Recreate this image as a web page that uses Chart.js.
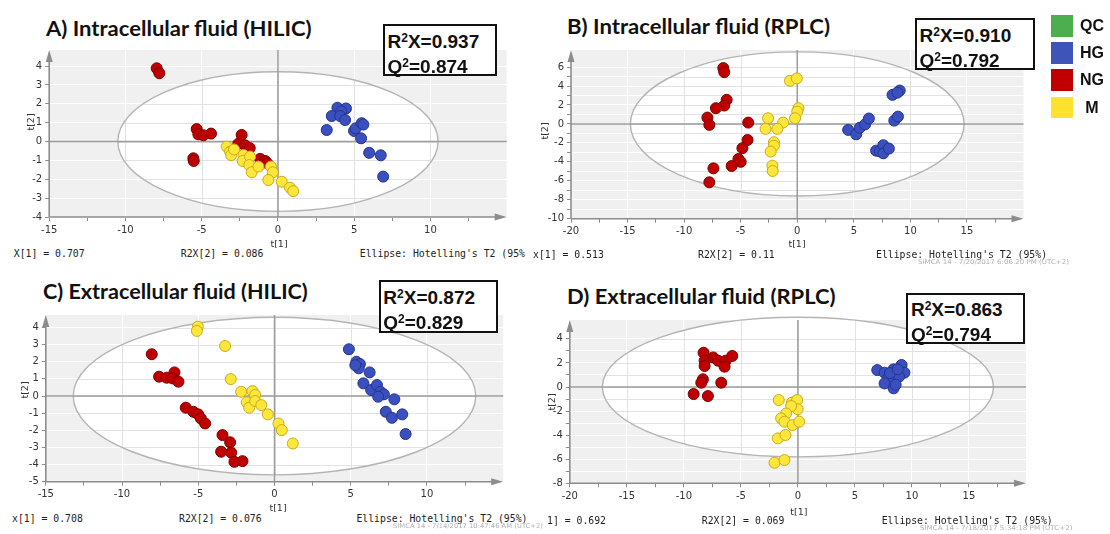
<!DOCTYPE html>
<html><head><meta charset="utf-8">
<script src="https://cdn.jsdelivr.net/npm/chart.js@4.4.1/dist/chart.umd.min.js"></script>
<style>
html,body{margin:0;padding:0;background:#fff;}
#wrap{position:relative;width:1110px;height:534px;overflow:hidden;background:#fff;}
canvas{position:absolute;}
.t{position:absolute;white-space:pre;line-height:1;}
.box{position:absolute;box-sizing:border-box;border:2px solid #111;background:#fff;}
.sw{position:absolute;}
.sup{font-size:12px;position:relative;top:-6px;}
</style></head><body><div id="wrap"></div>
<script>
// ---------------- DATA ----------------
const groups = ['QC', 'HG', 'NG', 'M'];
const panelTitles = ['A) Intracellular fluid (HILIC)', 'B) Intracellular fluid (RPLC)', 'C) Extracellular fluid (HILIC)', 'D) Extracellular fluid (RPLC)'];
const r2xValues = ['0.937', '0.910', '0.872', '0.863'];
const q2Values = ['0.874', '0.792', '0.829', '0.794'];
const r2x1Labels = ['X[1] = 0.707', 'x[1] = 0.513', 'x[1] = 0.708', '1] = 0.692'];
const r2x2Labels = ['R2X[2] = 0.086', 'R2X[2] = 0.11', 'R2X[2] = 0.076', 'R2X[2] = 0.069'];
const ellipseLabels = ["Ellipse: Hotelling's T2 (95%", "Ellipse: Hotelling's T2 (95%)", "Ellipse: Hotelling's T2 (95%)", "Ellipse: Hotelling's T2 (95%)"];
const stampLabels = ['', 'SIMCA 14 - 7/20/2017 6:06:20 PM (UTC+2)', 'SIMCA 14 - 7/14/2017 10:47:46 AM (UTC+2)', 'SIMCA 14 - 7/18/2017 5:34:18 PM (UTC+2)'];
const xRanges = [[-15, 15], [-20, 20], [-15, 15], [-20, 20]];
const yRanges = [[-4, 4.85], [-10, 7.8], [-5, 4.73], [-8, 5.57]];
const xLabelStep = [5, 5, 5, 5];
const yLabelStep = [1, 2, 1, 2];
const ellipseRx = [10.5, 14.75, 13.2, 17.15];
const ellipseRy = [3.7, 7.6, 4.6, 5.8];

const A_HG = [[3.9,1.79],[4.46,1.75],[4.15,1.6],[3.53,1.35],[4.08,1.35],[4.4,1.14],[3.2,0.61],[4.99,0.56],[5.1,0.7],[5.49,0.97],[5.6,0.9],[5.45,0.17],[5.98,-0.6],[6.74,-0.73],[6.9,-1.86]];
const A_NG = [[-7.95,3.88],[-7.78,3.62],[-5.33,0.66],[-5.22,0.38],[-4.89,0.33],[-4.39,0.42],[-5.55,-0.89],[-5.52,-1.03],[-2.38,0.35],[-2.6,-0.12],[-2.16,-0.2],[-1.85,-0.35],[-1.17,-0.92],[-0.84,-1.03],[-0.7,-1.15]];
const A_M  = [[-3.36,-0.27],[-3.14,-0.54],[-3.07,-0.72],[-2.88,-0.42],[-2.26,-0.72],[-2.31,-1.03],[-1.83,-0.8],[-1.88,-1.25],[-1.72,-1.63],[-1.28,-1.33],[-0.46,-1.33],[-0.34,-1.63],[-0.63,-2.04],[0.25,-2.13],[0.79,-2.45],[1.0,-2.63]];

const B_HG = [[4.5,-0.63],[5.21,-1.1],[5.53,-0.4],[6.0,-0.05],[6.33,0.57],[6.97,-2.82],[7.3,-2.9],[7.61,-2.25],[7.61,-3.1],[8.1,-2.6],[8.42,3.07],[9.06,3.52],[8.85,3.3],[8.58,0.35],[8.9,0.77]];
const B_NG = [[-6.54,5.89],[-6.45,5.46],[-6.24,2.54],[-6.45,1.94],[-7.19,1.66],[-7.94,0.67],[-7.77,-0.1],[-4.33,0.14],[-4.39,-1.69],[-4.85,-2.56],[-5.2,-3.7],[-5.0,-4.0],[-5.8,-4.44],[-7.41,-4.69],[-7.77,-6.16]];
const B_M  = [[-0.64,4.55],[-0.04,4.8],[0.1,1.66],[0.0,1.3],[-0.19,0.6],[-2.58,0.6],[-1.25,0.14],[-2.8,-0.52],[-1.76,-0.52],[-2.06,-1.93],[-2.06,-2.3],[-2.35,-2.92],[-2.2,-4.41],[-2.17,-4.97]];

const C_HG = [[4.88,2.73],[5.37,2.0],[5.6,1.87],[5.52,1.62],[5.3,1.8],[6.24,1.38],[5.83,0.74],[6.34,0.35],[6.72,0.64],[6.95,0.25],[7.17,0.1],[6.8,-0.04],[7.86,-0.19],[7.3,-0.92],[7.7,-1.27],[8.38,-1.07],[8.6,-2.22]];
const C_NG = [[-8.05,2.44],[-7.57,1.13],[-7.07,1.07],[-6.56,1.38],[-6.69,1.03],[-6.3,0.84],[-5.82,-0.68],[-5.32,-0.92],[-5.0,-1.07],[-4.83,-1.31],[-4.55,-1.6],[-3.41,-2.28],[-2.91,-2.7],[-3.5,-3.25],[-2.84,-3.3],[-2.63,-3.84],[-2.1,-3.8]];
const C_M  = [[-5.03,4.05],[-5.09,3.8],[-3.24,2.92],[-2.87,0.99],[-2.19,0.25],[-1.45,0.29],[-1.27,0.06],[-1.82,-0.37],[-1.66,-0.68],[-1.27,-0.29],[-0.87,-0.53],[-0.44,-1.07],[0.26,-1.6],[0.48,-1.99],[1.2,-2.77]];

const D_HG = [[6.96,1.41],[7.6,1.19],[8.39,1.47],[9.09,1.83],[9.34,1.19],[7.92,0.72],[8.87,0.86],[7.6,0.3],[8.39,-0.11],[8.57,0.19],[8.07,1.16],[8.75,1.47]];
const D_NG = [[-8.27,2.85],[-8.18,2.19],[-8.18,1.75],[-7.43,2.46],[-7.0,2.19],[-6.34,2.19],[-6.43,1.69],[-5.76,2.58],[-8.33,0.64],[-8.47,0.36],[-6.72,0.36],[-9.14,-0.58],[-7.89,-0.75]];
const D_M  = [[-1.68,-1.08],[-0.52,-1.3],[-0.07,-1.08],[-0.02,-1.85],[-0.59,-1.58],[-1.03,-2.2],[-1.47,-2.6],[-1.18,-2.88],[-0.46,-3.16],[0.12,-2.88],[-1.76,-4.27],[-1.09,-3.99],[-2.05,-6.29],[-1.18,-6.07]];

const panelSeries = [
  {HG: A_HG, NG: A_NG, M: A_M},
  {HG: B_HG, NG: B_NG, M: B_M},
  {HG: C_HG, NG: C_NG, M: C_M},
  {HG: D_HG, NG: D_NG, M: D_M}
];

// ---------------- STYLE / LAYOUT ----------------
const legendColors = {QC: '#4dae50', HG: '#3f54b8', NG: '#c00000', M: '#ffe22e'};
const pointFill = {HG: '#3b50c0', NG: '#c00000', M: '#ffe63a'};
const pointEdge = {HG: '#25348a', NG: '#7d0000', M: '#c8ac1c'};
const layoutSpec = [
  {canvas: [0, 40, 530, 205], area: [49.2, 50, 506.7, 217], title: [45.8, 26.7, 266], box: [383, 24, 114, 52],
   foot: 253, footX: [13.8, 180.8, 359.8], t1: [279, 243], t2: [29.5, 121.5], stamp: null},
  {canvas: [530, 40, 510, 205], area: [571, 50, 1023.5, 218.7], title: [567.3, 25, 263.5], box: [915, 18.3, 119.5, 52],
   foot: 254, footX: [533, 698, 876], t1: [797, 243], t2: [544, 131], stamp: [918, 261.5, 151]},
  {canvas: [0, 305, 530, 205], area: [45.8, 315, 503.2, 481.7], title: [43, 290, 265.2], box: [378.8, 280, 119.5, 52.7],
   foot: 518, footX: [12, 179, 356.4], t1: [278, 506.7], t2: [24, 390], stamp: [392.6, 526, 150]},
  {canvas: [530, 310, 510, 200], area: [569.8, 320, 1026, 483.3], title: [567, 295, 269], box: [906.4, 292.7, 119, 51.3],
   foot: 520, footX: [547, 701.8, 881.7], t1: [798.8, 510.7], t2: [551, 402], stamp: [920, 528.3, 152.5]}
];

const wrap = document.getElementById('wrap');
const mctx = document.createElement('canvas').getContext('2d');
function T(txt, x, y, font, o = {}) {
  const d = document.createElement('div');
  d.className = 't';
  if (o.parts) {
    o.parts.forEach(p => {
      const s = document.createElement('span');
      s.textContent = p[0];
      if (p[1]) s.className = p[1];
      d.appendChild(s);
    });
  } else {
    d.textContent = txt;
  }
  d.style.font = font;
  d.style.color = o.color || '#111';
  d.style.left = x + 'px';
  d.style.top = y + 'px';
  let tf = '';
  if (o.center) tf += 'translate(-50%,-50%) '; else tf += 'translateY(-50%) ';
  if (o.rotate) tf += 'rotate(' + o.rotate + 'deg) ';
  if (o.w) {
    mctx.font = font;
    const m = mctx.measureText(txt).width;
    tf += 'scaleX(' + (o.w / m) + ')';
    d.style.transformOrigin = '0 50%';
  }
  d.style.transform = tf;
  wrap.appendChild(d);
  return d;
}
const isMult = (v, s) => Math.abs(v / s - Math.round(v / s)) < 1e-6;

const panelPlugin = {
  id: 'panel',
  beforeDraw(chart, args, o) {
    const {ctx, chartArea: a} = chart;
    ctx.save();
    ctx.fillStyle = '#f0f0f0';
    ctx.fillRect(a.left, a.top, a.right - a.left, a.bottom - a.top);
    ctx.restore();
  },
  beforeDatasetsDraw(chart, args, o) {
    const {ctx, chartArea: a, scales: {x, y}} = chart;
    const cx = x.getPixelForValue(0), cy = y.getPixelForValue(0);
    const rx = Math.abs(x.getPixelForValue(o.rx) - cx), ry = Math.abs(y.getPixelForValue(o.ry) - cy);
    ctx.save();
    ctx.beginPath();
    ctx.ellipse(cx, cy, rx, ry, 0, 0, 2 * Math.PI);
    ctx.fillStyle = '#ffffff';
    ctx.fill();
    ctx.clip();
    ctx.strokeStyle = '#e2e2e2';
    ctx.lineWidth = 1;
    y.ticks.forEach(t => {
      const p = Math.round(y.getPixelForValue(t.value)) + 0.5;
      ctx.beginPath(); ctx.moveTo(a.left, p); ctx.lineTo(a.right, p); ctx.stroke();
    });
    x.ticks.forEach(t => {
      if (!isMult(t.value, 5)) return;
      const p = Math.round(x.getPixelForValue(t.value)) + 0.5;
      ctx.beginPath(); ctx.moveTo(p, a.top); ctx.lineTo(p, a.bottom); ctx.stroke();
    });
    ctx.restore();
    ctx.save();
    ctx.beginPath();
    ctx.ellipse(cx, cy, rx, ry, 0, 0, 2 * Math.PI);
    ctx.strokeStyle = '#b4b4b4';
    ctx.lineWidth = 1.4;
    ctx.stroke();
    // zero lines
    ctx.strokeStyle = '#9c9c9c';
    ctx.lineWidth = 1.5;
    ctx.beginPath(); ctx.moveTo(a.left, cy); ctx.lineTo(a.right, cy); ctx.stroke();
    ctx.beginPath(); ctx.moveTo(cx, a.top); ctx.lineTo(cx, a.bottom); ctx.stroke();
    // axes with arrows
    ctx.strokeStyle = '#8c8c8c';
    ctx.fillStyle = '#8c8c8c';
    ctx.lineWidth = 1.6;
    ctx.beginPath(); ctx.moveTo(a.left, a.bottom); ctx.lineTo(a.right - 6, a.bottom); ctx.stroke();
    ctx.beginPath(); ctx.moveTo(a.right, a.bottom); ctx.lineTo(a.right - 12, a.bottom - 3.5); ctx.lineTo(a.right - 12, a.bottom + 3.5); ctx.closePath(); ctx.fill();
    ctx.beginPath(); ctx.moveTo(a.left, a.bottom); ctx.lineTo(a.left, a.top + 6); ctx.stroke();
    ctx.beginPath(); ctx.moveTo(a.left, a.top); ctx.lineTo(a.left - 3.5, a.top + 12); ctx.lineTo(a.left + 3.5, a.top + 12); ctx.closePath(); ctx.fill();
    ctx.restore();
  }
};

const tickFont = {family: 'DejaVu Sans', size: 10};
layoutSpec.forEach((L, i) => {
  const [cxp, cyp, cw, ch] = L.canvas;
  const [al, at, ar, ab] = L.area;
  const cv = document.createElement('canvas');
  cv.width = cw; cv.height = ch;
  cv.style.left = cxp + 'px'; cv.style.top = cyp + 'px';
  cv.style.width = cw + 'px'; cv.style.height = ch + 'px';
  wrap.appendChild(cv);
  const S = panelSeries[i];
  const order = ['M', 'NG', 'HG'];
  const datasets = order.map(g => ({
    label: g,
    data: S[g].map(p => ({x: p[0], y: p[1]})),
    backgroundColor: pointFill[g],
    borderColor: pointEdge[g],
    borderWidth: 1,
    pointRadius: 5.5,
    pointHoverRadius: 5.5
  }));
  const ys = yLabelStep[i], xs = xLabelStep[i];
  new Chart(cv, {
    type: 'scatter',
    data: {datasets},
    plugins: [panelPlugin],
    options: {
      responsive: false, animation: false, events: [], devicePixelRatio: 1,
      layout: {padding: {top: at - cyp, right: cxp + cw - ar, left: 0, bottom: 0}},
      plugins: {legend: {display: false}, tooltip: {enabled: false}, panel: {rx: ellipseRx[i], ry: ellipseRy[i]}},
      scales: {
        x: {
          type: 'linear', min: xRanges[i][0], max: xRanges[i][1],
          border: {display: false},
          grid: {color: c => (c.tick && isMult(c.tick.value, xs)) ? '#ffffff' : 'rgba(0,0,0,0)', tickColor: '#8c8c8c', tickLength: 4, lineWidth: 1},
          ticks: {stepSize: 2.5, autoSkip: false, maxRotation: 0, font: tickFont, color: '#333', padding: 3,
                  callback: v => isMult(v, xs) ? String(v) : ''},
          afterBuildTicks: s => { s.ticks = s.ticks.filter(t => isMult(t.value, 2.5) && t.value < s.max - 1e-6); },
          afterFit: s => { s.height = cyp + ch - ab; }
        },
        y: {
          type: 'linear', min: yRanges[i][0], max: yRanges[i][1],
          border: {display: false},
          grid: {color: '#ffffff', tickColor: '#8c8c8c', tickLength: 4, lineWidth: 1},
          ticks: {stepSize: 1, autoSkip: false, font: tickFont, color: '#333', padding: 3,
                  callback: v => isMult(v, ys) ? String(v) : ''},
          afterBuildTicks: s => { s.ticks = s.ticks.filter(t => isMult(t.value, 1)); },
          afterFit: s => { s.width = al - cxp; }
        }
      }
    }
  });
});

// text overlays
const monoFont = '9.8px "DejaVu Sans Mono"';
const boxFont = 'bold 19px "Liberation Sans"';
layoutSpec.forEach((L, i) => {
  T(panelTitles[i], L.title[0], L.title[1], 'bold 21px Lato', {w: L.title[2]});
  const [bx, by, bw, bh] = L.box;
  const b = document.createElement('div');
  b.className = 'box';
  b.style.left = bx + 'px'; b.style.top = by + 'px'; b.style.width = bw + 'px'; b.style.height = bh + 'px';
  wrap.appendChild(b);
  T('', bx + 4.5, by + 17.7, boxFont, {color: '#111', parts: [['R'], ['2', 'sup'], ['X=' + r2xValues[i]]]});
  T('', bx + 4.5, by + 42.5, boxFont, {color: '#111', parts: [['Q'], ['2', 'sup'], ['=' + q2Values[i]]]});
  T(r2x1Labels[i], L.footX[0], L.foot, monoFont, {color: '#222'});
  T(r2x2Labels[i], L.footX[1], L.foot, monoFont, {color: '#222'});
  T(ellipseLabels[i], L.footX[2], L.foot, monoFont, {color: '#222'});
  T('t[1]', L.t1[0], L.t1[1], '9.5px "DejaVu Sans"', {center: true, color: '#333'});
  T('t[2]', L.t2[0], L.t2[1], '9.5px "DejaVu Sans"', {center: true, rotate: -90, color: '#333'});
  if (L.stamp) T(stampLabels[i], L.stamp[0], L.stamp[1], '6.5px "DejaVu Sans"', {color: '#b0b0b0', w: L.stamp[2]});
});

// legend
const legendY = [25.8, 53, 80, 107.5];
groups.forEach((g, k) => {
  const s = document.createElement('div');
  s.className = 'sw';
  s.style.left = '1050.7px'; s.style.top = (legendY[k] - 10.8) + 'px';
  s.style.width = '22px'; s.style.height = '21.5px';
  s.style.background = legendColors[g];
  wrap.appendChild(s);
  T(g, 1092, legendY[k], 'bold 16px "Liberation Sans"', {center: true, color: '#111'});
});
</script></body></html>
